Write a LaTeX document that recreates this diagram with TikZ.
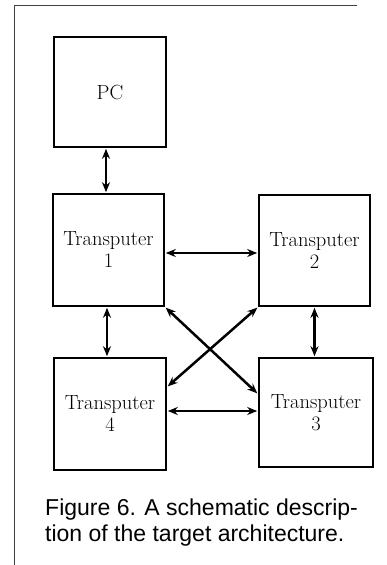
\documentclass[tikz,border=0pt]{standalone}
\usepackage{fontspec}
\newfontfamily\capfont{Liberation Sans}
\usetikzlibrary{arrows.meta,calc}
\begin{document}
\begin{tikzpicture}[x=1pt,y=-1pt,
  tbox/.style={draw,line width=2.6pt,inner sep=0pt,align=center,
    font=\fontsize{20.5}{22}\selectfont},
  link/.style={line width=2.5pt,{Stealth[length=10pt,width=8pt]}-{Stealth[length=10pt,width=8pt]},shorten <=0.5pt,shorten >=0.5pt},
  frame/.style={line width=0.9pt,draw=black!75}]
\useasboundingbox (0,0) rectangle (387,565);
\draw[frame] (14,565) coordinate (fb) -- (14,5) coordinate (ftl) -- (357,5) coordinate (ftr);
\node[tbox,minimum width=112pt,minimum height=110pt] (PC) at (110,92) {PC};
\node[tbox,minimum width=111pt,minimum height=112pt] (T1) at (108.5,250) {Transputer\\1};
\node[tbox,minimum width=111pt,minimum height=111pt] (T2) at (314.5,250.5) {Transputer\\2};
\node[tbox,minimum width=112pt,minimum height=112pt] (T4) at (110,414) {Transputer\\4};
\node[tbox,minimum width=114pt,minimum height=109pt] (T3) at (316,412.5) {Transputer\\3};
\draw[link] ([xshift=-4pt]PC.south) -- ([xshift=-4pt]PC.south |- T1.north);
\draw[link] ([yshift=-3pt]T1.east) -- ([yshift=-3pt]T1.east -| T2.west);
\draw[link] ([xshift=-1.5pt]T1.south) -- ([xshift=-1.5pt]T1.south |- T4.north);
\draw[link] (T2.south) -- (T2.south |- T3.north);
\draw[link] ([yshift=3pt]T4.east) -- ([yshift=3pt]T4.east -| T3.west);
\draw[link] (T1.south east) -- ([yshift=-37pt]T3.north west);
\draw[link] (T2.south west) -- ([yshift=-30pt]T4.north east);
\node[anchor=north west,align=left,inner sep=0pt,
  font=\capfont\fontsize{23}{26}\selectfont] (cap) at (45,499)
  {Figure 6. A schematic descrip-\\tion of the target architecture.};
\end{tikzpicture}
\end{document}
